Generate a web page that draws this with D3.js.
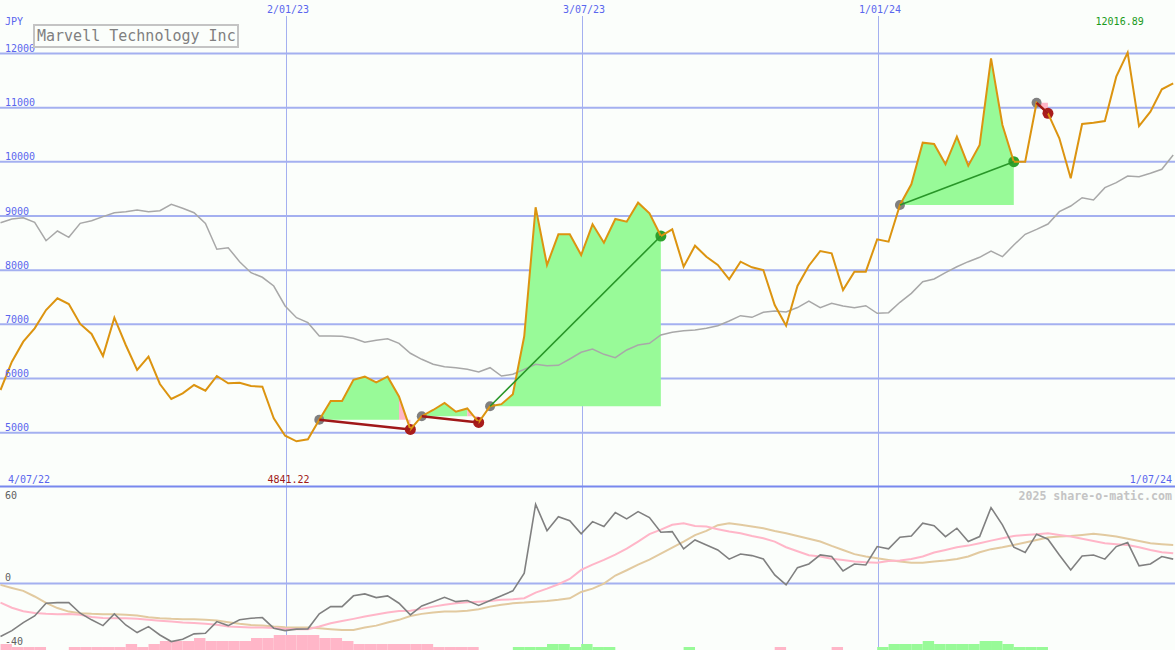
<!DOCTYPE html>
<html><head><meta charset="utf-8">
<script src="https://cdn.jsdelivr.net/npm/d3@7"></script>
<style>
html,body{margin:0;padding:0;background:#fbfefb;}
svg{display:block;}
text{font-family:"DejaVu Sans Mono","Liberation Mono",monospace;}
</style></head><body>
<svg id="chart" width="1175" height="650"></svg>
<script>
// ---------- data ----------
const title = "Marvell Technology Inc";
const currency = "JPY";
const firstWeek = "2022-07-10";   // first weekly observation
const weekCount = 104;
const price = [5788,6311,6680,6927,7265,7481,7376,7007,6822,6416,7123,6619,6157,6403,5899,5622,5727,5880,5775,6047,
  5912,5923,5862,5849,5266,4945,4841.22,4878,5240,5585,5585,5975,6034,5930,6034,5670,5060,5305,5419,5548,
  5388,5447,5190,5488,5527,5710,6780,9161,8096,8662,8662,8280,8847,8507,8945,8895,9246,9050,8631,8754,
  8064,8452,8249,8096,7832,8157,8053,8003,7357,6975,7708,8083,8354,8312,7634,7972,7972,8570,8526,9203,
  9585,10354,10330,9955,10464,9929,10311,11911,10680,10003,10003,11090,10896,10435,9697,10699,10723,10754,11572,12016.89,
  10660,10926,11339,11450];
const movingAvg = [8877,8945,8969,8884,8544,8723,8607,8865,8914,8988,9061,9080,9111,9080,9098,9216,9142,9061,8865,8386,
  8415,8157,7954,7869,7708,7339,7123,7031,6785,6785,6779,6743,6669,6705,6735,6650,6466,6355,6263,6218,
  6200,6170,6120,6200,6047,6078,6170,6263,6237,6244,6361,6484,6545,6447,6385,6527,6619,6650,6804,6853,
  6883,6896,6927,6975,7062,7160,7130,7222,7247,7228,7310,7431,7308,7389,7339,7308,7345,7204,7216,7407,
  7573,7788,7837,7954,8064,8157,8238,8354,8249,8465,8662,8754,8852,9080,9185,9338,9296,9523,9615,9739,
  9726,9788,9862,10126];
const oscillator = [-32.9,-29.2,-24.2,-20.1,-12.2,-11.8,-11.8,-18.4,-22.5,-26.1,-18.8,-25.7,-30.4,-26.7,-31.9,-36,-34.6,-31.2,-30.8,-23.6,
  -26.1,-22.5,-21.5,-21.1,-27.7,-29.2,-28.3,-28.1,-18.8,-14.3,-14.3,-7.6,-6.4,-8.7,-7.6,-12.2,-19.4,-13.9,-11.2,-8.5,
  -11.2,-10.5,-13.6,-10.5,-7.6,-4.5,6.5,49.3,32.9,41.6,39.1,30.9,38.5,35.4,44.1,40.2,44.7,41,31.9,32.3,
  21.6,27.1,24,20.9,15.2,18.4,17.4,15.3,5.4,-0.8,9.9,12.2,17.8,16.8,7.9,12.2,11.6,23,21.6,28.8,
  29.6,37.5,36,29.2,34.4,26.1,29.2,47.2,36.5,22.6,19.3,30.7,27.6,17.8,8.5,17.2,17.8,15.2,23,25.5,
  11,12.2,16.8,15.2];
const signalFast = [-11.8,-15.0,-17.2,-18.3,-18.8,-19.0,-18.9,-19.3,-20.7,-21.4,-21.5,-21.5,-21.8,-22.4,-23.0,-23.5,-24.1,-24.5,-25.0,-25.6,
  -26.6,-27.0,-27.3,-27.3,-27.6,-28.0,-28.3,-28.3,-26.6,-24.6,-23.2,-21.9,-20.5,-19.2,-18.0,-17.0,-16.8,-15.7,-14.3,-13.2,
  -12.2,-11.6,-11.2,-10.8,-10.1,-9.7,-9.1,-5.6,-3.1,-0.4,2.9,8.5,11.8,14.7,18,21.7,26.1,30.7,33.5,36.5,
  37.5,35.8,35.4,33.8,32.3,31.3,29.6,28.2,26.1,22.6,20.1,17.6,16.8,15.5,14.7,13.7,13.3,13,14.1,14.3,
  15.3,16.8,19.3,20.9,22.6,23.6,25.1,26.7,28.2,29.6,30.2,30.7,31.3,30.2,29.2,27.8,26.5,25.1,24.5,24,
  22.6,20.9,19.5,18.9];
const signalSlow = [-0.8,-2.7,-4.5,-8.0,-12.0,-15.2,-17.4,-18.4,-18.8,-19.0,-19.0,-19.4,-19.8,-20.9,-21.5,-21.9,-22.1,-22.1,-22.5,-22.9,
  -24.0,-25.0,-25.7,-26.1,-26.7,-27.1,-27.3,-27.3,-27.7,-28.3,-28.8,-28.8,-27.3,-26.1,-24.2,-22.5,-20.1,-18.8,-18,-17.4,
  -17.4,-16.8,-15.9,-14.3,-13.2,-12.2,-11.8,-11.2,-10.8,-10.1,-9.1,-5.2,-3.1,0,5,8.3,11.8,14.9,18.6,22.4,
  26.1,30.1,32.7,36.3,37.5,36.5,35.4,34.4,32.7,31.3,29.6,27.8,26.1,23.4,20.9,18.3,16.8,15.8,14.7,13.7,
  13,13,13.7,14.3,15.3,16.8,19.5,21.4,22.6,24,25.5,27.1,28.6,29.2,29.6,30.2,30.9,30.2,29.2,27.8,
  26.5,25.1,24.5,24];
const histogram = [-2,-1,-1,-1,0,0,-1,-1,-1,-1,-1,-2,-1,-2,-3,-3,-3,-4,-3,-3,
  -3,-3,-4,-4,-5,-5,-5,-5,-4,-4,-3,-2,-2,-2,-2,-2,-2,-2,-1,-1,
  -1,-1,0,0,0,1,1,1,2,2,1,2,1,1,0,0,0,0,0,0,
  1,0,0,0,0,0,0,0,-1,0,0,0,0,-1,0,0,0,1,2,2,
  2,3,2,2,2,2,3,3,2,1,1,1,0,0,0,0,0,0,0,0,
  0,0,0,0];
const priceTicks = [5000,6000,7000,8000,9000,10000,11000,12000];
const oscTicks = [60,0,-40];
const dateTicks = ["2023-01-02","2023-07-03","2024-01-01"];
const dateTickLabels = ["2/01/23","3/07/23","1/01/24"];
const startLabel = "4/07/22";
const endLabel = "1/07/24";
const patternStart = [28,37,43,79,91];
const patternEnd   = [36,42,58,89,92];
const patternGain  = [false,false,true,true,false];
const watermark = "2025 share-o-matic.com";

// ---------- layout ----------
const W = 1175, H = 650;
const svg = d3.select("#chart");
svg.append("rect").attr("width",W).attr("height",H).attr("fill","#fbfefb");

const parse = d3.utcParse("%Y-%m-%d");
const t0 = parse(firstWeek);
const dates = d3.range(weekCount).map(i => d3.utcDay.offset(t0, 7*i));
const x = d3.scaleUtc().domain([dates[0], dates[weekCount-1]]).range([0.5, 1173.2]);
const y = d3.scaleLinear().domain([5000,12000]).range([432.7,53.5]);
const yo = d3.scaleLinear().domain([-40,60]).range([648,487]);
const hb = d3.scaleLinear().domain([0,5]).range([0,15]);

const C = {grid:"#a4b0f0", divider:"#7888ee", axis:"#5a66ee", orange:"#dc9410", ma:"#a8a8a8",
  green:"#98fa98", pink:"#ffb6c8", tan:"#e2caa0", osc:"#808080", red:"#a01818", gline:"#289628"};

// horizontal grid (price)
svg.append("g").selectAll("line").data(priceTicks).join("line")
  .attr("x1",0).attr("x2",W).attr("y1",d=>y(d)).attr("y2",d=>y(d))
  .attr("stroke",C.grid).attr("stroke-width",2);
// oscillator zero line
svg.append("line").attr("x1",0).attr("x2",W).attr("y1",yo(0)).attr("y2",yo(0))
  .attr("stroke",C.grid).attr("stroke-width",2);
// vertical grid
const vx = d => Math.floor(x(parse(d))) + 0.5;
svg.append("g").selectAll("line").data(dateTicks).join("line")
  .attr("x1",vx).attr("x2",vx).attr("y1",16).attr("y2",H)
  .attr("stroke",C.grid).attr("stroke-width",1);
// divider
svg.append("line").attr("x1",0).attr("x2",W).attr("y1",486.5).attr("y2",486.5)
  .attr("stroke",C.divider).attr("stroke-width",2);

// pattern fills
const idx = (a,b) => d3.range(a,b+1);
patternStart.forEach((s,k) => {
  const e = patternEnd[k];
  const base = price[s];
  const area = d3.area().x(i=>x(dates[i])).y0(y(base)).y1(i=>y(price[i]));
  const greenEnd = patternGain[k] ? e : e-1;
  if (greenEnd > s) svg.append("path").attr("d",area(idx(s,greenEnd))).attr("fill",C.green);
  if (!patternGain[k]) svg.append("path").attr("d",area(idx(e-1,e))).attr("fill",C.pink);
});

// histogram bars
const step = x(dates[1]) - x(dates[0]);
svg.append("g").selectAll("rect").data(histogram.map((v,i)=>({v,i})).filter(d=>d.v!==0)).join("rect")
  .attr("x",d=>x(dates[d.i])).attr("width",step)
  .attr("y",d=>H - hb(Math.abs(d.v))).attr("height",d=>hb(Math.abs(d.v)))
  .attr("fill",d=>d.v<0?C.pink:C.green);

// oscillator lines
const oline = arr => d3.line().x((d,i)=>x(dates[i])).y(d=>yo(d))(arr);
svg.append("path").attr("d",oline(signalSlow)).attr("fill","none").attr("stroke",C.tan).attr("stroke-width",2);
svg.append("path").attr("d",oline(signalFast)).attr("fill","none").attr("stroke",C.pink).attr("stroke-width",2);
svg.append("path").attr("d",oline(oscillator)).attr("fill","none").attr("stroke",C.osc).attr("stroke-width",1.6);

// price lines
const pline = arr => d3.line().x((d,i)=>x(dates[i])).y(d=>y(d))(arr);
svg.append("path").attr("d",pline(movingAvg)).attr("fill","none").attr("stroke",C.ma).attr("stroke-width",1.5);

// pattern dots
patternStart.forEach((s,k) => {
  const e = patternEnd[k];
  svg.append("circle").attr("cx",x(dates[s])).attr("cy",y(price[s])).attr("r",5).attr("fill","#808080");
  svg.append("circle").attr("cx",x(dates[e])).attr("cy",y(price[e])).attr("r",5.5)
    .attr("fill",patternGain[k] ? "#2ea02e" : "#a81c1c");
});
svg.append("path").attr("d",pline(price)).attr("fill","none").attr("stroke",C.orange).attr("stroke-width",2)
  .attr("stroke-linejoin","miter");
// pattern connecting lines
patternStart.forEach((s,k) => {
  const e = patternEnd[k];
  svg.append("line").attr("x1",x(dates[s])).attr("y1",y(price[s])).attr("x2",x(dates[e])).attr("y2",y(price[e]))
    .attr("stroke",patternGain[k] ? C.gline : C.red).attr("stroke-width",patternGain[k] ? 1.6 : 2.5);
});

// price axis labels
svg.append("g").selectAll("text").data(priceTicks).join("text")
  .attr("x",5).attr("y",d=>y(d)-1.5).attr("fill",C.axis).attr("font-size",10).text(d=>d);
svg.append("text").attr("x",5).attr("y",25).attr("fill",C.axis).attr("font-size",10).text(currency);
// date labels
svg.append("g").selectAll("text").data(dateTicks).join("text")
  .attr("x",d=>vx(d)+1.5).attr("y",13).attr("text-anchor","middle").attr("fill",C.axis).attr("font-size",10)
  .text((d,i)=>dateTickLabels[i]);
svg.append("text").attr("x",8).attr("y",483).attr("fill",C.axis).attr("font-size",10).text(startLabel);
svg.append("text").attr("x",1172).attr("y",483).attr("text-anchor","end").attr("fill",C.axis).attr("font-size",10).text(endLabel);

// min / max labels
const iMin = d3.minIndex(price), iMax = d3.maxIndex(price);
svg.append("text").attr("x",x(dates[iMin])-8).attr("y",483).attr("text-anchor","middle")
  .attr("fill",C.red).attr("font-size",10).text(d3.format(".2f")(price[iMin]));
svg.append("text").attr("x",x(dates[iMax])-8).attr("y",25).attr("text-anchor","middle")
  .attr("fill","#1a9a1a").attr("font-size",10).text(d3.format(".2f")(price[iMax]));

// oscillator labels
const oy = {60:499, 0:581, "-40":645};
svg.append("g").selectAll("text").data(oscTicks).join("text")
  .attr("x",5).attr("y",d=>oy[d]).attr("fill","#606060").attr("font-size",10).text(d=>d);

// watermark
svg.append("text").attr("x",1172).attr("y",500).attr("text-anchor","end").attr("fill","#c4c4c4")
  .attr("font-size",11.6).attr("font-weight","bold").text(watermark);

// title box
svg.append("rect").attr("x",34).attr("y",25).attr("width",204).attr("height",22)
  .attr("fill","#fbfefb").attr("stroke","#c4c4c4").attr("stroke-width",2);
svg.append("text").attr("x",37).attr("y",41).attr("fill","#808080").attr("font-size",15).text(title);
</script>
</body></html>
